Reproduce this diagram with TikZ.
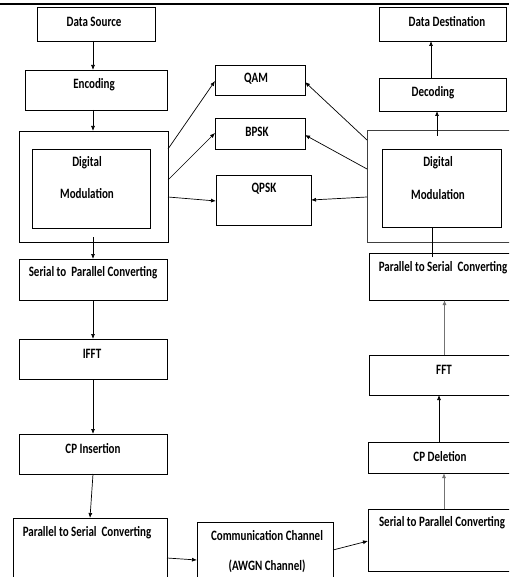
\documentclass[tikz,border=0pt]{standalone}
\usepackage{fontspec}
\setmainfont{Carlito}
\usetikzlibrary{arrows.meta}
\tikzset{
  box/.style={draw=black, line width=0.8pt, rectangle, inner sep=0pt, outer sep=0pt},
  graybox/.style={draw=black!75, line width=0.8pt, rectangle, inner sep=0pt, outer sep=0pt},
  lbl/.style={font=\fontsize{11}{13}\selectfont\bfseries, inner sep=0pt, anchor=center},
  arr/.style={draw=black, line width=0.7pt, -{Latex[length=5pt,width=4pt]}},
  grayarr/.style={draw=black!55, line width=0.9pt, -{Latex[length=5pt,width=4pt]}},
  ln/.style={draw=black, line width=0.7pt},
}
\newcommand{\bx}[6][box]{%
  \node[#1, minimum width={(#5-#3)*1pt}, minimum height={(#6-#4)*1pt}] (#2) at ({(#3+#5)/2},{(#4+#6)/2}) {};}
\newcommand{\tall}[1]{\scalebox{1}[1.3]{#1}}
\begin{document}
\begin{tikzpicture}[x=1pt,y=-1pt]
\useasboundingbox (0,0) rectangle (509,577);
\clip (0,0) rectangle (509,577);
\fill[white] (0,0) rectangle (509,577);
% top rule
\coordinate (tl) at (0,4);
\coordinate (tr) at (509,4);
\draw[line width=1.4pt] (tl) -- (tr);
% left column
\bx{src}{37}{7}{155}{41}
\bx{enc}{25}{70}{167}{110}
\bx{dmLo}{19}{131}{168}{242}
\bx{dmLi}{32}{149}{150}{228}
\bx{s2pL}{19}{259}{167}{300}
\bx{ifft}{19}{339}{167}{379}
\bx{cpi}{19}{434}{167}{474}
\bx{p2sL}{13}{518}{167}{582}
% middle
\bx{qam}{215}{65}{305}{95}
\bx{bpsk}{215}{118}{305}{149}
\bx{qpsk}{216}{175}{311}{225}
\bx{comm}{197}{522}{333}{582}
% right column
\bx{dst}{379}{7}{506}{41}
\bx{dec}{379}{78}{506}{111}
\bx[graybox]{dmRo}{367}{130}{510}{242}
\bx{dmRi}{382}{149}{501}{227}
\bx{p2sR}{369}{253}{510}{300}
\bx{fft}{369}{355}{510}{395}
\bx{cpd}{368}{442}{510}{473}
\bx{s2pR}{368}{509}{510}{571}
% labels
\node[lbl] (tsrc) at (94,22) {\tall{Data Source}};
\node[lbl] (tenc) at (94,85) {\tall{Encoding}};
\node[lbl] (tdmL1) at (87,163) {\tall{Digital}};
\node[lbl] (tdmL2) at (87,194) {\tall{Modulation}};
\node[lbl] (ts2pL) at (93,273) {\tall{Serial to\ \ Parallel Converting}};
\node[lbl] (tifft) at (92,354) {\tall{IFFT}};
\node[lbl] (tcpi) at (93,449) {\tall{CP Insertion}};
\node[lbl] (tp2sL) at (87,533) {\tall{Parallel to Serial\ \ Converting}};
\node[lbl] (tqam) at (256,79) {\tall{QAM}};
\node[lbl] (tbpsk) at (257,132) {\tall{BPSK}};
\node[lbl] (tqpsk) at (264,189) {\tall{QPSK}};
\node[lbl] (tcomm1) at (267,536) {\tall{Communication Channel}};
\node[lbl] (tcomm2) at (267,566) {\tall{(AWGN Channel)}};
\node[lbl] (tdst) at (447,22) {\tall{Data Destination}};
\node[lbl] (tdec) at (433,93) {\tall{Decoding}};
\node[lbl] (tdmR1) at (438,163) {\tall{Digital}};
\node[lbl] (tdmR2) at (438,195) {\tall{Modulation}};
\node[lbl] (tp2sR) at (443,268) {\tall{Parallel to Serial\ \ Converting}};
\node[lbl] (tfft) at (444,370) {\tall{FFT}};
\node[lbl] (tcpd) at (440,457) {\tall{CP Deletion}};
\node[lbl] (ts2pR) at (442,523) {\tall{Serial to Parallel Converting}};
% transmitter chain
\draw[arr] ([xshift=-3pt]src.south) -- ([xshift=-3pt]enc.north);
\draw[arr] ([xshift=-3pt]enc.south) -- ([xshift=-0.5pt]dmLo.north);
\draw[arr] ([xshift=-0.5pt,yshift=5pt]dmLo.south) -- ([xshift=0pt]s2pL.north);
\draw[arr] (s2pL.south) -- (ifft.north);
\draw[arr] (ifft.south) -- (cpi.north);
\draw[arr] (cpi.south) -- ([xshift=0pt]p2sL.north);
\draw[arr] ([yshift=-8pt]p2sL.east) -- ([yshift=-8pt]comm.west);
\draw[arr] ([yshift=2pt]comm.east) -- ([yshift=-1pt]s2pR.west);
% receiver chain
\draw[grayarr] ([xshift=5pt]s2pR.north) -- ([xshift=5pt]cpd.south);
\draw[arr] (cpd.north) -- ([xshift=-0.5pt]fft.south);
\draw[grayarr] ([xshift=5pt]fft.north) -- ([xshift=5pt]p2sR.south);
\draw[ln] ([xshift=-7.5pt,yshift=-4pt]p2sR.north) -- ([xshift=-9.5pt]dmRi.south);
\draw[arr] ([xshift=-1.5pt,yshift=-6pt]dmRo.north) -- ([xshift=-5.5pt]dec.south);
\draw[arr] ([xshift=-11.5pt]dec.north) -- ([xshift=-11.5pt]dst.south);
% modulation choices
\draw[arr] ([yshift=37.5pt]dmLo.east) -- ([yshift=-1pt]qam.west);
\draw[arr] ([yshift=6.5pt]dmLo.east) -- ([yshift=0.5pt]bpsk.west);
\draw[arr] ([yshift=-10.5pt]dmLo.east) -- ([yshift=-1pt]qpsk.west);
\draw[arr] ([yshift=46pt]dmRo.west) -- ([yshift=-2pt]qam.east);
\draw[arr] ([yshift=17pt]dmRo.west) -- ([yshift=-1.5pt]bpsk.east);
\draw[arr] ([yshift=-11pt]dmRo.west) -- (qpsk.east);
\end{tikzpicture}
\end{document}
